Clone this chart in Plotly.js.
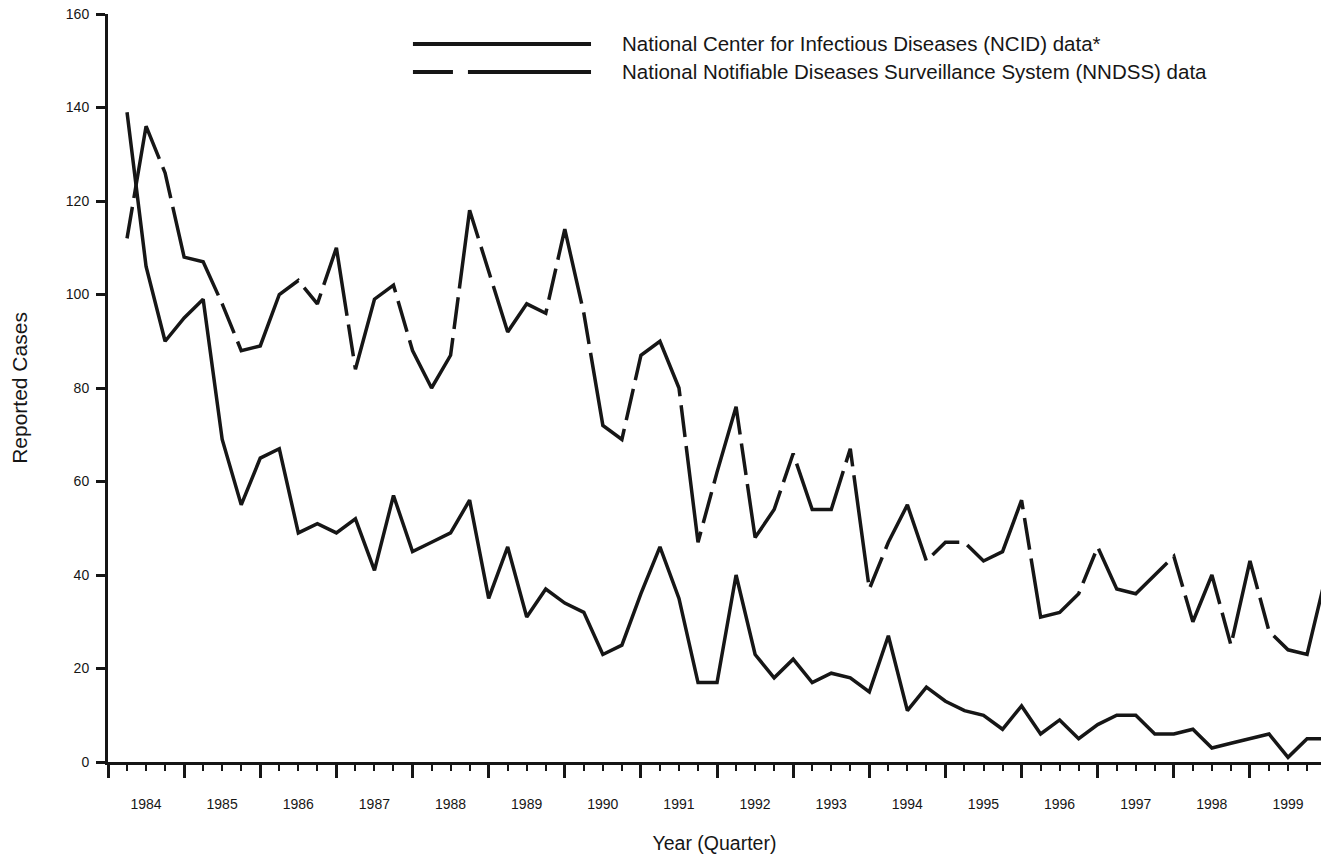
<!DOCTYPE html>
<html><head><meta charset="utf-8">
<script src="https://cdn.plot.ly/plotly-3.0.1.min.js"></script>
<style>html,body{margin:0;padding:0;background:#fff}#chart{width:1321px;height:854px}</style>
</head><body><div id="chart"></div>
<script>
const years = [1984,1985,1986,1987,1988,1989,1990,1991,1992,1993,1994,1995,1996,1997,1998,1999];
const quarters = [1,2,3,4];
const ncid = [139,106,90,95, 99,69,55,65, 67,49,51,49, 52,41,57,45, 47,49,56,35, 46,31,37,34, 32,23,25,36, 46,35,17,17, 40,23,18,22, 17,19,18,15, 27,11,16,13, 11,10,7,12, 6,9,5,8, 10,10,6,6, 7,3,4,5, 6,1,5,5];
const nndss = [112,136,126,108, 107,98,88,89, 100,103,98,110, 84,99,102,88, 80,87,118,105, 92,98,96,114, 96,72,69,87, 90,80,47,62, 76,48,54,66, 54,54,67,37, 47,55,43,47, 47,43,45,56, 31,32,36,46, 37,36,40,44, 30,40,25,43, 28,24,23,40];
const seriesNames = ["National Center for Infectious Diseases (NCID) data*", "National Notifiable Diseases Surveillance System (NNDSS) data"];
const yTicks = [0,20,40,60,80,100,120,140,160];

const x = [];
years.forEach(yr => quarters.forEach(q => x.push(yr + q / 4)));

const ink = '#161616';
const font = 'Liberation Sans, Arial, Helvetica, sans-serif';
const dashPattern = '32px,9px,108px,9px';

const traces = [
  {x: x, y: ncid, name: seriesNames[0], type: 'scatter', mode: 'lines',
   line: {color: ink, width: 3.5, dash: 'solid'}},
  {x: x, y: nndss, name: seriesNames[1], type: 'scatter', mode: 'lines',
   line: {color: ink, width: 3.5, dash: dashPattern}}
];

const layout = {
  width: 1321, height: 854,
  margin: {l: 108, r: 0, t: 14, b: 92},
  paper_bgcolor: '#fff', plot_bgcolor: '#fff',
  showlegend: false,
  font: {family: font, color: ink},
  xaxis: {
    range: [1984, 1999.933],
    tickmode: 'array', tickvals: years, ticktext: years.map(String),
    ticks: 'outside', ticklen: 13, tickwidth: 3, tickcolor: ink,
    ticklabelshift: 38, ticklabelstandoff: 14,
    tickfont: {size: 14, family: font, color: ink},
    showline: true, linewidth: 3, linecolor: ink,
    showgrid: false, zeroline: false,
    minor: {tickmode: 'linear', tick0: 1984, dtick: 0.25, ticks: 'outside', ticklen: 6, tickwidth: 2, tickcolor: ink, showgrid: false},
    title: {text: 'Year (Quarter)', font: {size: 19.5, family: font, color: ink}, standoff: 26}
  },
  yaxis: {
    range: [0, 160],
    tickmode: 'array', tickvals: yTicks,
    ticks: 'outside', ticklen: 9, tickwidth: 3, tickcolor: ink,
    ticklabelstandoff: 4,
    tickfont: {size: 14, family: font, color: ink},
    showline: true, linewidth: 3, linecolor: ink,
    showgrid: false, zeroline: false,
    title: {text: 'Reported Cases', font: {size: 21, family: font, color: ink}, standoff: 33}
  },
  shapes: [
    {type: 'line', xref: 'paper', yref: 'paper', x0: 0.2514, x1: 0.3982, y0: 0.9599, y1: 0.9599,
     line: {color: ink, width: 4, dash: 'solid'}},
    {type: 'line', xref: 'paper', yref: 'paper', x0: 0.2514, x1: 0.3982, y0: 0.9225, y1: 0.9225,
     line: {color: ink, width: 4, dash: '40px,15px,130px'}}
  ],
  annotations: [
    {xref: 'paper', yref: 'paper', x: 0.4221, y: 0.9599, xanchor: 'left', yanchor: 'middle', showarrow: false,
     text: seriesNames[0], font: {size: 20.5, family: font, color: ink}},
    {xref: 'paper', yref: 'paper', x: 0.4221, y: 0.9225, xanchor: 'left', yanchor: 'middle', showarrow: false,
     text: seriesNames[1], font: {size: 20.5, family: font, color: ink}}
  ]
};

Plotly.newPlot('chart', traces, layout, {displayModeBar: false, staticPlot: true});
</script>
</body></html>
